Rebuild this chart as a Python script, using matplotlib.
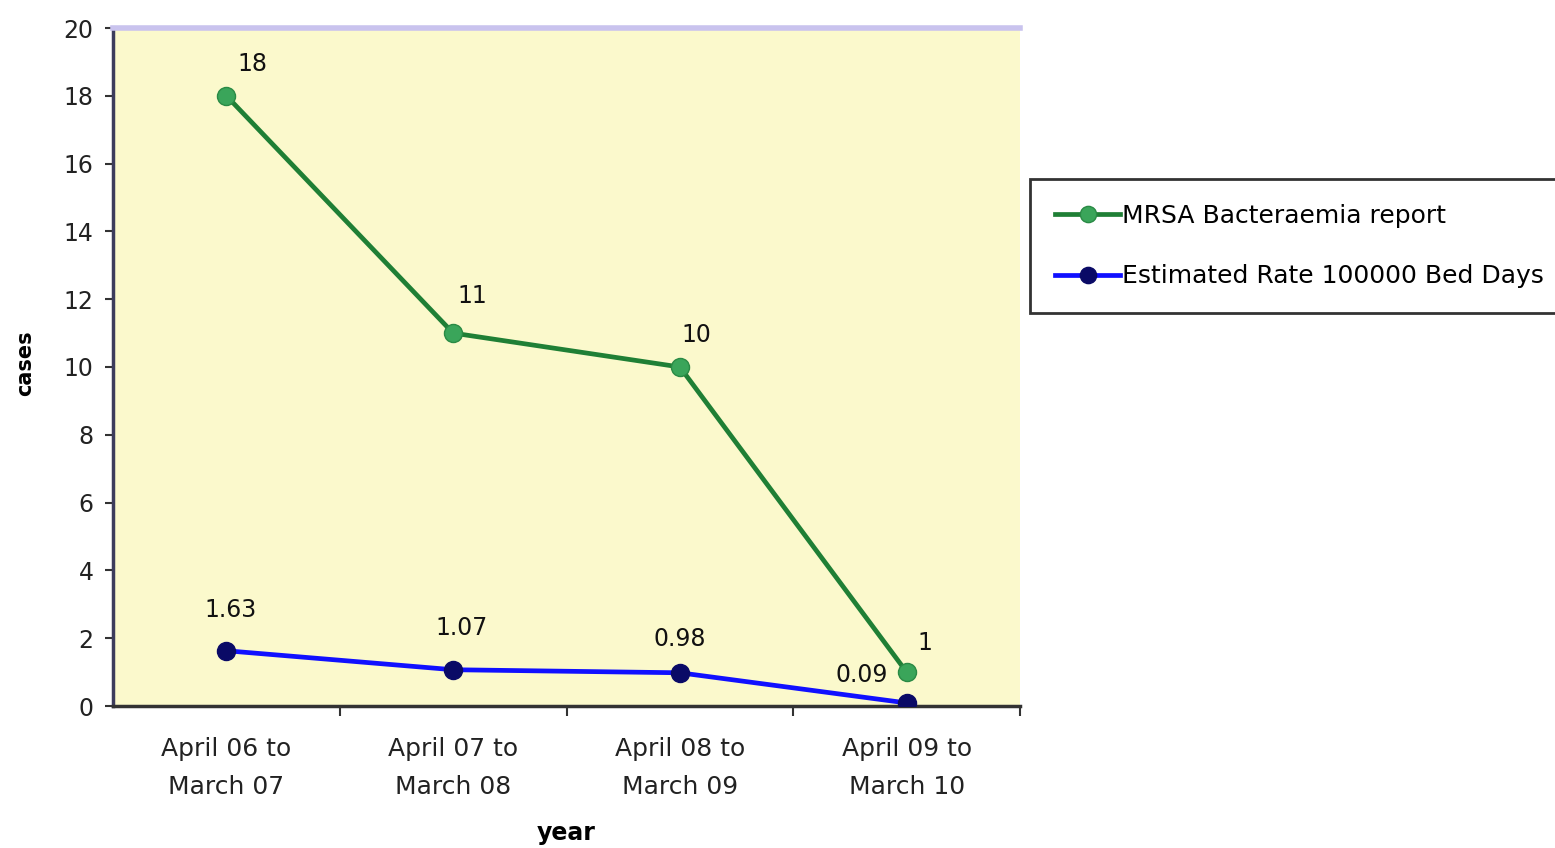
import matplotlib.pyplot as plt
from matplotlib.ticker import FixedLocator

# yearly figures
periods = ['April 06 to\nMarch 07', 'April 07 to\nMarch 08', 'April 08 to\nMarch 09', 'April 09 to\nMarch 10']
mrsa_cases = [18, 11, 10, 1]
est_rate = [1.63, 1.07, 0.98, 0.09]
mrsa_labels = ['18', '11', '10', '1']
rate_labels = ['1.63', '1.07', '0.98', '0.09']

plt.rcParams['font.family'] = ['DejaVu Sans']

fig = plt.figure(figsize=(15.55, 8.48), dpi=100)
ax = fig.add_axes([113/1555, 142/848, 907/1555, 678/848])
ax.set_facecolor('#fbf9cc')

x = list(range(len(periods)))
ax.plot(x, mrsa_cases, color='#1f7f35', lw=3.4, marker='o', ms=13,
        mfc='#3aa55a', mec='#2a8a45', label='MRSA Bacteraemia report', zorder=3)
ax.plot(x, est_rate, color='#1010ff', lw=3.4, marker='o', ms=13,
        mfc='#0a0a66', mec='#0a0a66', label='Estimated Rate 100000 Bed Days', zorder=4)

# value labels next to each point (offsets in points)
mrsa_off = [(19, 23), (14, 27), (12, 23), (13, 21)]
rate_off = [(3, 29), (6, 30), (0, 24), (-32, 20)]
for i, v in enumerate(mrsa_cases):
    ax.annotate(mrsa_labels[i], (x[i], v), xytext=mrsa_off[i], textcoords='offset points',
                ha='center', va='center', fontsize=17, color='#111111')
for i, v in enumerate(est_rate):
    ax.annotate(rate_labels[i], (x[i], v), xytext=rate_off[i], textcoords='offset points',
                ha='center', va='center', fontsize=17, color='#111111')

ax.set_xlim(-0.5, 3.5)
ax.set_ylim(0, 20)
ax.set_yticks(range(0, 21, 2))
ax.set_xticks(x)
ax.set_xticklabels(periods, fontsize=18, color='#222222', linespacing=1.75)
ax.xaxis.set_minor_locator(FixedLocator([0.5, 1.5, 2.5, 3.5]))
ax.tick_params(axis='x', which='major', length=0, pad=22)
ax.tick_params(axis='x', which='minor', length=7, width=1.5, direction='out', color='#333333')
ax.tick_params(axis='y', length=6, width=1.5, direction='out', color='#333333',
               labelsize=17, labelcolor='#222222', pad=8)

ax.spines['right'].set_visible(False)
ax.spines['top'].set_color('#c9c3ee')
ax.spines['top'].set_linewidth(4)
ax.spines['left'].set_color('#3c3c5c')
ax.spines['left'].set_linewidth(2.5)
ax.spines['bottom'].set_color('#333333')
ax.spines['bottom'].set_linewidth(2.5)

ax.set_xlabel('year', fontsize=17, fontweight='bold', va='center')
ax.xaxis.set_label_coords(0.5, -0.188)
ax.set_ylabel('cases', fontsize=15, fontweight='bold', va='center')
ax.yaxis.set_label_coords(-0.097, 0.505)

leg = fig.legend(loc='upper left', bbox_to_anchor=(1030/1555, 1 - 179/848),
                 fontsize=18, frameon=True, fancybox=False, edgecolor='black',
                 handlelength=2.6, handletextpad=0.1, labelspacing=1.45,
                 borderpad=1.0, borderaxespad=0, markerscale=0.9)
leg.get_frame().set_linewidth(2)

fig.savefig('out.png', dpi=100, facecolor='white')
